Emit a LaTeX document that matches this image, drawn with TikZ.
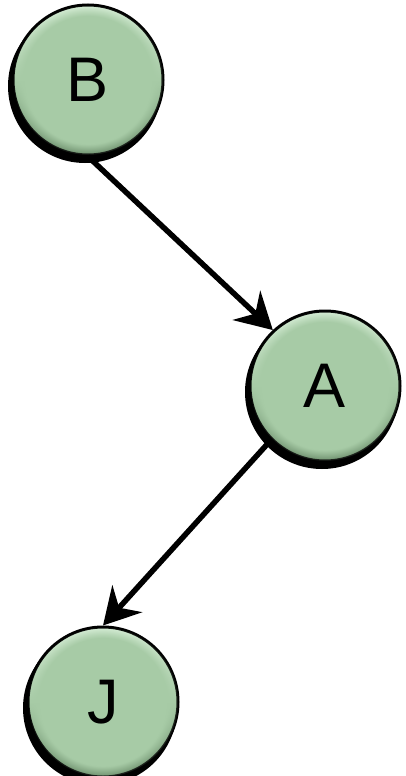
\documentclass[tikz,border=0pt]{standalone}
\usepackage{fontspec}
\setmainfont{Liberation Sans}
\usetikzlibrary{arrows.meta,fadings,calc}
\definecolor{baseg}{HTML}{A7CBA6}
\definecolor{lightg}{HTML}{DAF0DA}
\definecolor{darkg}{HTML}{688A68}
\tikzset{
  ballnode/.style={circle, minimum size=150pt, inner sep=0pt, draw=black, line width=3pt,
    top color=lightg, bottom color=darkg, middle color=baseg,
    postaction={fill=baseg, path fading=circle with fuzzy edge 15 percent},
    font=\fontsize{63}{63}\selectfont},
  ballshadow/.style={fill=black},
  edgearrow/.style={line width=5.5pt, -{Stealth[length=36pt,width=40pt,inset=12pt]}}
}
\begin{document}
\begin{tikzpicture}[x=1pt,y=-1pt]
\useasboundingbox (0,0) rectangle (405,776);
\coordinate (pB) at (88,80);
\coordinate (pA) at (325,386);
\coordinate (pJ) at (103,702);
\fill[ballshadow] ($(pB)+(-3,6)$) circle (77);
\fill[ballshadow] ($(pA)+(-3,6)$) circle (77);
\fill[ballshadow] ($(pJ)+(-3,6)$) circle (77);
\node[ballnode] (B) at (pB) {B};
\node[ballnode] (A) at (pA) {A};
\node[ballnode] (J) at (pJ) {J};
\draw[edgearrow] (B.south) -- (A.133);
\draw[edgearrow] (A.225) -- (J.north);
\end{tikzpicture}
\end{document}
